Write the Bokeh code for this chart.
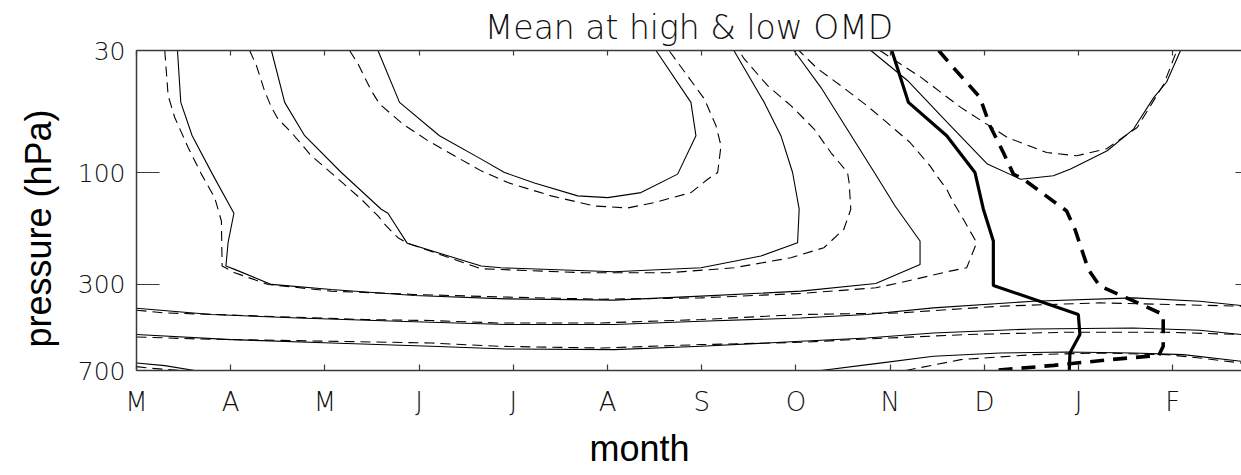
from bokeh.plotting import figure
from bokeh.models import Range1d, FixedTicker, LinearAxis, LogAxis, Title
from bokeh.embed import file_html
from bokeh.resources import INLINE

# ---------------- data (month index: 0 = March ... 11 = February; pressure in hPa) -------------
month_ticks = [0, 1, 2, 3, 4, 5, 6, 7, 8, 9, 10, 11]
month_labels = ["M", "A", "M", "J", "J", "A", "S", "O", "N", "D", "J", "F"]
pressure_ticks = [30, 100, 300, 700]
pressure_labels = ["30", "100", "300", "700"]

# outer contour (high OMD = solid, low OMD = dashed)
c1_hi_month = [0.435, 0.470, 0.591, 0.806, 1.034, 0.972, 0.949, 1.042, 1.432, 2.068, 2.951, 3.923,
               5.069, 5.992, 7.052, 7.847, 8.317, 8.317, 8.052, 7.847, 7.264, 6.978]
c1_hi_hpa = [30, 50.0, 69.4, 101.3, 148.9, 199.0, 250.4, 258.7, 300, 315.2, 334.4, 345.8,
             350.3, 336.7, 320.5, 297.1, 246.3, 195.7, 138.6, 102.0, 43.1, 30]
c1_lo_month = [0.300, 0.336, 0.406, 0.548, 0.689, 0.830, 0.901, 0.909, 1.042, 1.397, 2.068, 2.948,
               3.836, 4.931, 5.992, 7.052, 7.847, 8.102, 8.635, 8.812, 8.918, 8.777, 8.671, 8.600,
               8.494, 8.423, 8.211, 7.964, 7.752, 7.476, 7.229, 7.031]
c1_lo_hpa = [30, 46.8, 58.0, 77.9, 101.3, 127.7, 160.7, 250.4, 267.5, 300, 320.5, 331.1,
             339.1, 347.0, 342.4, 327.9, 310.2, 295.3, 263.1, 254.7, 199.0, 158.0, 134.1, 117.5,
             103.0, 93.4, 74.2, 60.9, 51.6, 42.4, 35.9, 30]

# middle contour
c2_hi_month = [1.432, 1.573, 1.785, 2.174, 2.598, 2.669, 2.874, 3.659, 3.871, 5.069, 5.992, 6.628,
               7.017, 7.034, 6.964, 6.840, 6.663, 6.341]
c2_hi_hpa = [30, 50.0, 69.4, 99.7, 143.1, 148.9, 200.2, 250.4, 254.7, 264.9, 254.7, 226.9,
             199.0, 143.1, 99.7, 69.4, 50.0, 30]
c2_lo_month = [1.201, 1.273, 1.361, 1.432, 1.503, 1.644, 1.856, 2.103, 2.386, 2.563, 2.651, 2.775,
               2.881, 3.659, 4.751, 5.642, 6.341, 6.946, 7.296, 7.508, 7.582, 7.564, 7.547, 7.370,
               7.193, 6.946, 6.699, 6.451, 6.394]
c2_lo_hpa = [30, 34.8, 44.8, 52.5, 58.9, 67.2, 84.6, 103.0, 129.7, 152.9, 168.7, 189.4,
             200.2, 257.2, 267.5, 267.5, 254.7, 230.7, 209.1, 174.3, 143.1, 110.1, 99.7, 81.9,
             65.0, 51.6, 42.4, 32.6, 30]

# inner contour
c3_hi_month = [2.563, 2.792, 3.216, 3.659, 3.906, 4.224, 4.684, 5.002, 5.355, 5.744, 5.938, 5.885, 5.514]
c3_hi_hpa = [30, 50.0, 69.4, 87.4, 99.7, 110.5, 125.5, 127.7, 121.5, 101.3, 69.4, 50.0, 30]
c3_lo_month = [2.262, 2.351, 2.492, 2.580, 2.828, 3.093, 3.375, 3.659, 3.942, 4.401, 4.860, 5.214,
               5.496, 5.885, 6.063, 6.169, 6.204, 6.151, 6.027, 5.744, 5.652]
c3_lo_hpa = [30, 34.2, 44.5, 50.8, 61.9, 72.9, 84.6, 98.1, 110.1, 125.5, 138.6, 141.3,
             134.1, 121.5, 106.5, 99.7, 76.6, 62.9, 48.3, 33.7, 30]

# upper right (D-J-F) contour
c4_hi_month = [7.794, 8.183, 8.608, 9.032, 9.385, 9.732, 9.915, 10.304, 10.583, 10.799, 10.933, 11.082]
c4_hi_hpa = [30, 40.3, 61.0, 91.8, 106.5, 103.0, 96.4, 80.5, 65.0, 47.6, 41.0, 30]
c4_lo_month = [7.890, 7.971, 8.324, 8.749, 9.244, 9.661, 9.979, 10.297, 10.622, 10.905, 11.029, 11.050]
c4_lo_hpa = [30, 31.5, 39.0, 52.5, 70.6, 81.9, 84.6, 78.9, 64.0, 41.7, 31.0, 30]

# lower tropospheric contours
c5_hi_month = [0.0, 0.795, 1.715, 2.775, 3.924, 5.069, 5.992, 7.052, 7.752, 8.459, 9.520, 10.580, 11.286, 11.729]
c5_hi_hpa = [379.1, 403.4, 417.2, 431.0, 445.2, 445.2, 431.0, 417.2, 403.4, 378.0, 353.8, 342.4, 353.8, 369.1]
c5_lo_month = [0.0, 0.297, 0.827, 2.418, 3.128, 3.836, 4.931, 5.992, 7.052, 8.102, 9.162, 10.223, 11.283, 11.729]
c5_lo_hpa = [386.6, 397.1, 403.4, 423.8, 428.0, 438.3, 438.3, 423.8, 403.4, 397.1, 371.7, 359.8, 368.0, 371.7]

c6_hi_month = [0.0, 1.007, 2.068, 3.128, 3.924, 5.069, 5.992, 7.052, 7.752, 8.459, 9.520, 10.580, 11.286, 11.729]
c6_hi_hpa = [491.4, 516.3, 533.9, 551.6, 566.5, 569.9, 551.6, 525.0, 508.2, 483.7, 465.0, 460.5, 471.0, 491.4]
c6_lo_month = [0.0, 0.654, 3.128, 3.836, 4.931, 5.992, 7.052, 7.752, 8.812, 9.873, 10.933, 11.729]
c6_lo_hpa = [503.2, 513.3, 533.9, 551.6, 561.0, 542.4, 530.3, 513.3, 491.4, 480.4, 480.4, 491.4]

c7a_hi_month = [0.0, 0.300, 0.618]
c7a_hi_hpa = [650.4, 667.3, 700]
c7a_lo_month = [0.0, 0.124, 0.477]
c7a_lo_hpa = [673.6, 683.3, 700]
c7b_hi_month = [7.264, 7.847, 8.459, 9.165, 9.873, 10.580, 11.110, 11.729]
c7b_hi_hpa = [700, 654.3, 608.8, 589.3, 583.5, 589.3, 598.7, 639.6]
c7b_lo_month = [8.165, 8.749, 9.520, 10.226, 10.933, 11.286, 11.729]
c7b_lo_hpa = [700, 628.9, 598.7, 589.3, 598.7, 619.1, 650.4]

# thick lines (high OMD = solid, low OMD = dashed)
bnd_hi_month = [8.017, 8.194, 8.600, 8.900, 8.989, 9.095, 9.095, 9.997, 10.014, 9.908, 9.901]
bnd_hi_hpa = [30, 50.0, 69.4, 99.7, 143.1, 195.7, 303.0, 403.4, 491.4, 589.3, 700]
bnd_lo_month = [8.515, 8.635, 8.953, 9.059, 9.201, 9.308, 9.414, 9.873, 9.961, 10.103, 10.226,
                10.509, 10.898, 10.898, 10.851, 10.339, 9.738, 9.102]
bnd_lo_hpa = [30, 34.2, 47.6, 62.9, 81.9, 101.3, 106.5, 145.6, 174.3, 258.7, 305.1,
              342.4, 403.4, 551.6, 602.8, 628.9, 665.3, 700]

# ---------------- figure --------------------------------------------------------------------
TICK_FONT = "DejaVu Sans Light, Open Sans Light, Lato Light, Roboto Light, DejaVu Sans"
LABEL_FONT = "Liberation Sans"
AXIS_COLOR = "#3a3a3a"

p = figure(width=1241, height=475,
           x_range=Range1d(0, 11.729), y_range=Range1d(700, 30),
           y_axis_type="log",
           output_backend="svg", toolbar_location=None,
           min_border_left=135, min_border_right=0, min_border_top=50, min_border_bottom=105,
           title="Mean at high & low OMD")
p.outline_line_color = None
p.xgrid.visible = False
p.ygrid.visible = False
p.background_fill_color = "white"
p.border_fill_color = "white"

p.title.align = "center"
p.title.text_font = TICK_FONT
p.title.text_font_size = "33px"
p.title.text_font_style = "normal"
p.title.text_color = "#111111"
p.title.standoff = 7

xa = p.xaxis[0]
xa.ticker = FixedTicker(ticks=month_ticks)
xa.major_label_overrides = dict(zip(month_ticks, month_labels))
ya = p.yaxis[0]
ya.ticker = FixedTicker(ticks=pressure_ticks)
ya.major_label_overrides = dict(zip(pressure_ticks, pressure_labels))

top = LinearAxis(ticker=FixedTicker(ticks=month_ticks))
right = LogAxis(ticker=FixedTicker(ticks=pressure_ticks))
p.add_layout(top, "above")
p.add_layout(right, "right")

for ax in (xa, ya, top, right):
    ax.axis_line_color = AXIS_COLOR
    ax.axis_line_width = 1.5
    ax.major_tick_line_color = AXIS_COLOR
    ax.major_tick_line_width = 1.2
    ax.major_tick_out = 0
    ax.minor_tick_in = 0
    ax.minor_tick_out = 0
    ax.major_label_text_font = TICK_FONT
    ax.major_label_text_color = "#111111"

xa.major_tick_in = 6
xa.major_label_text_font_size = "26px"
xa.major_label_standoff = 16
ya.major_tick_in = 23
ya.major_label_text_font_size = "25px"
ya.major_label_standoff = 11
# top / right frame edges: tick marks only, no labels drawn
for ax in (top, right):
    ax.major_label_text_font_size = "1px"
    ax.major_label_text_color = None
    ax.major_label_standoff = 0
top.major_tick_in = 5
right.axis_line_color = None
right.major_tick_in = 6

THIN = 1.1
DASH = "10 6"
pairs = [
    (c1_hi_month, c1_hi_hpa, c1_lo_month, c1_lo_hpa),
    (c2_hi_month, c2_hi_hpa, c2_lo_month, c2_lo_hpa),
    (c3_hi_month, c3_hi_hpa, c3_lo_month, c3_lo_hpa),
    (c4_hi_month, c4_hi_hpa, c4_lo_month, c4_lo_hpa),
    (c5_hi_month, c5_hi_hpa, c5_lo_month, c5_lo_hpa),
    (c6_hi_month, c6_hi_hpa, c6_lo_month, c6_lo_hpa),
    (c7a_hi_month, c7a_hi_hpa, c7a_lo_month, c7a_lo_hpa),
    (c7b_hi_month, c7b_hi_hpa, c7b_lo_month, c7b_lo_hpa),
]
for hx, hy, lx, ly in pairs:
    p.line(lx, ly, line_color="black", line_width=THIN, line_dash=DASH)
    p.line(hx, hy, line_color="black", line_width=THIN)

p.line(bnd_hi_month, bnd_hi_hpa, line_color="black", line_width=3.2)
p.line(bnd_lo_month, bnd_lo_hpa, line_color="black", line_width=3.6, line_dash="14 9")

# axis titles, placed where the original has them
xtitle = Title(text="month", align="left", offset=453, standoff=12,
               text_font=LABEL_FONT, text_font_size="36px", text_font_style="normal",
               text_color="black")
ytitle = Title(text="pressure (hPa)", align="left", offset=23, standoff=31,
               text_font=LABEL_FONT, text_font_size="36px", text_font_style="normal",
               text_color="black")
p.add_layout(xtitle, "below")
p.add_layout(ytitle, "left")

open("out.html", "w").write(file_html(p, INLINE))
